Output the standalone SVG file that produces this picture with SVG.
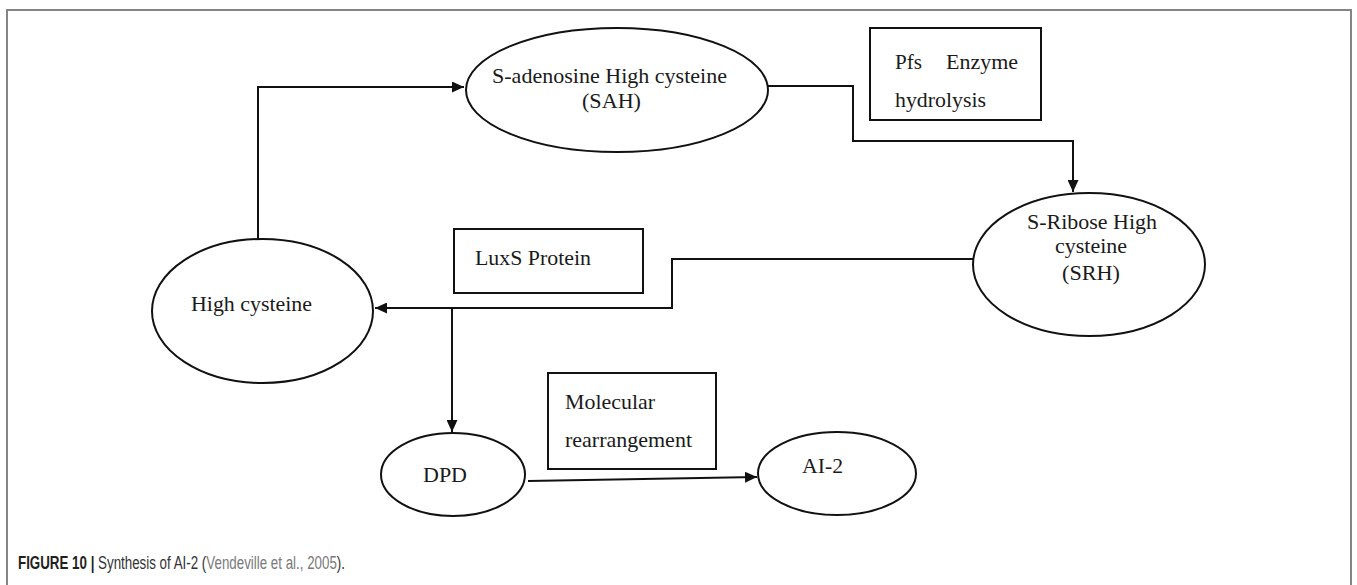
<svg xmlns="http://www.w3.org/2000/svg" width="1357" height="585" viewBox="0 0 1357 585">
<style>
.nd{fill:#fff;stroke:#111;stroke-width:2}
.t{font-family:"Liberation Serif","Times New Roman",serif;font-size:22px;fill:#1a1a1a}
.c{fill:none;stroke:#111;stroke-width:2}
.cap{font-family:"Liberation Sans",Arial,sans-serif;font-size:18px}
</style>
<defs>
<marker id="ah" markerUnits="userSpaceOnUse" markerWidth="12" markerHeight="11" refX="12" refY="5.5" orient="auto">
<path d="M0,0 L12,5.5 L0,11 z" fill="#111"/>
</marker>
</defs>
<rect x="7" y="10" width="1344" height="600" fill="#fff" stroke="#858585" stroke-width="2"/>
<g id="connectors">
<path class="c" d="M258,239 V87 H464" marker-end="url(#ah)"/>
<path class="c" d="M768,86 H853 V141 H1073 V192" marker-end="url(#ah)"/>
<path class="c" d="M973,259 H672 V308 H375" marker-end="url(#ah)"/>
<path class="c" d="M452,308 V432" marker-end="url(#ah)"/>
<path class="c" d="M528,481 L757,477" marker-end="url(#ah)"/>
</g>
<g id="sah">
<ellipse class="nd" cx="617" cy="90" rx="151" ry="62"/>
<text class="t" x="492" y="83" textLength="235" lengthAdjust="spacingAndGlyphs">S-adenosine High cysteine</text>
<text class="t" x="582" y="108" textLength="59" lengthAdjust="spacingAndGlyphs">(SAH)</text>
</g>
<g id="pfs">
<rect class="nd" x="870" y="28" width="171" height="92"/>
<text class="t" x="895" y="69" textLength="27" lengthAdjust="spacingAndGlyphs">Pfs</text>
<text class="t" x="946" y="69" textLength="72" lengthAdjust="spacingAndGlyphs">Enzyme</text>
<text class="t" x="895" y="107" textLength="91" lengthAdjust="spacingAndGlyphs">hydrolysis</text>
</g>
<g id="srh">
<ellipse class="nd" cx="1089" cy="264.5" rx="116" ry="71.5"/>
<text class="t" x="1027" y="229" textLength="130" lengthAdjust="spacingAndGlyphs">S-Ribose High</text>
<text class="t" x="1055" y="253" textLength="72" lengthAdjust="spacingAndGlyphs">cysteine</text>
<text class="t" x="1062" y="280" textLength="58" lengthAdjust="spacingAndGlyphs">(SRH)</text>
</g>
<g id="luxs">
<rect class="nd" x="454" y="229" width="189" height="64"/>
<text class="t" x="475" y="265" textLength="116" lengthAdjust="spacingAndGlyphs">LuxS Protein</text>
</g>
<g id="high-cysteine">
<ellipse class="nd" cx="262.5" cy="311" rx="110.5" ry="72"/>
<text class="t" x="191" y="311" textLength="121" lengthAdjust="spacingAndGlyphs">High cysteine</text>
</g>
<g id="dpd">
<ellipse class="nd" cx="453" cy="474.5" rx="72" ry="41.5"/>
<text class="t" x="423" y="482" textLength="44" lengthAdjust="spacingAndGlyphs">DPD</text>
</g>
<g id="molecular">
<rect class="nd" x="548" y="373" width="168" height="96"/>
<text class="t" x="565" y="409" textLength="90" lengthAdjust="spacingAndGlyphs">Molecular</text>
<text class="t" x="565" y="447" textLength="127" lengthAdjust="spacingAndGlyphs">rearrangement</text>
</g>
<g id="ai2">
<ellipse class="nd" cx="837" cy="473.5" rx="79" ry="41.5"/>
<text class="t" x="802" y="473" textLength="41" lengthAdjust="spacingAndGlyphs">AI-2</text>
</g>
<g id="caption">
<text class="cap" x="18" y="569" fill="#333" textLength="327" lengthAdjust="spacingAndGlyphs"><tspan font-weight="bold" fill="#231f20">FIGURE 10 | </tspan>Synthesis of AI-2 (<tspan fill="#7a7a7a">Vendeville et al., 2005</tspan>).</text>
</g>
</svg>
